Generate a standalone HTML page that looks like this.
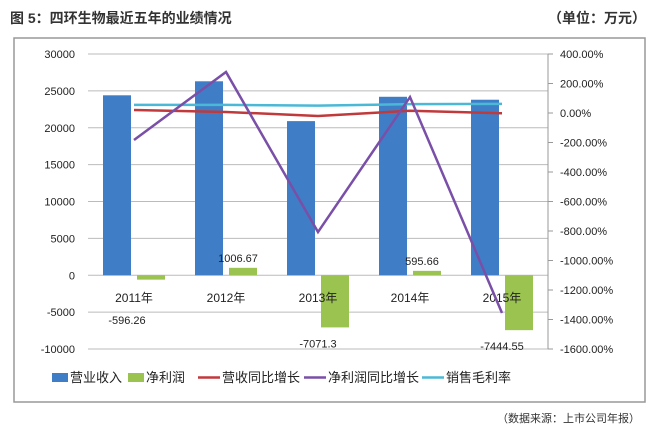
<!DOCTYPE html>
<html><head><meta charset="utf-8"><style>
body{margin:0;background:#fff;font-family:"Liberation Sans","Noto Sans CJK SC",sans-serif}
svg text{font-family:"Liberation Sans","Noto Sans CJK SC",sans-serif}
</style></head><body>
<svg id="c" width="657" height="434" xmlns="http://www.w3.org/2000/svg">
<text x="10" y="23" font-size="14" font-weight="bold" fill="#333">图 5：四环生物最近五年的业绩情况</text>
<text x="646" y="23" font-size="14" font-weight="bold" fill="#333" text-anchor="end">（单位：万元）</text>
<rect x="14" y="38" width="631" height="364" fill="none" stroke="#999" stroke-width="1.5"/>
<text x="640" y="422" font-size="11" fill="#333" text-anchor="end">（数据来源：上市公司年报）</text>
<g id="g"></g>
</svg>
<script>
const categories=["2011年","2012年","2013年","2014年","2015年"];
const revenue=[24400,26300,20900,24200,23800];
const profit=[-596.26,1006.67,-7071.3,595.66,-7444.55];
const profitLabels=["-596.26","1006.67","-7071.3","595.66","-7444.55"];
const revGrowth=[20,7,-20,15,-2];
const profitGrowth=[-183,278,-807,108,-1356];
const grossMargin=[55,55,50,60,62];
const leftTicks=[30000,25000,20000,15000,10000,5000,0,-5000,-10000];
const rightTicks=[400,200,0,-200,-400,-600,-800,-1000,-1200,-1400,-1600];
const X0=88,X1=548,Y0=54,Y1=349;
const yL=v=>Y0+(30000-v)/40000*(Y1-Y0);
const yR=v=>Y0+(400-v)/2000*(Y1-Y0);
const step=(X1-X0)/categories.length;
const xc=i=>X0+step*(i+0.5);
const g=document.getElementById('g');const NS="http://www.w3.org/2000/svg";
function mk(t,a,p){const e=document.createElementNS(NS,t);for(const k in a)e.setAttribute(k,a[k]);(p||g).appendChild(e);return e;}
leftTicks.forEach(v=>{const l=mk('line',{x1:X0,x2:X1,y1:yL(v),y2:yL(v),stroke:'#bbb'});


const t=mk('text',{x:75,y:yL(v)+4,'font-size':11,'text-anchor':'end',fill:'#222'});t.textContent=v;

});
mk('line',{x1:X1,x2:X1,y1:Y0,y2:Y1,stroke:'#999'});
rightTicks.forEach(v=>{mk('line',{x1:X1,x2:X1+5,y1:yR(v),y2:yR(v),stroke:'#999'});
const t=mk('text',{x:560,y:yR(v)+4,'font-size':11,fill:'#222'});t.textContent=v.toFixed(2)+'%';

});
categories.forEach((c,i)=>{
const b=mk('rect',{x:xc(i)-31,y:yL(revenue[i]),width:28,height:yL(0)-yL(revenue[i]),fill:'#3f7ec6'});


const p=profit[i],y1=Math.min(yL(p),yL(0)),h=Math.abs(yL(p)-yL(0));
const b2=mk('rect',{x:xc(i)+3,y:y1,width:28,height:h,fill:'#9bc34f'});


const t=mk('text',{x:xc(i),y:302,'font-size':12,'text-anchor':'middle',fill:'#222'});t.textContent=c;


let lx=p<0?xc(i):xc(i)+12,ly=p<0?yL(p)+20:yL(p)-6;
if(i==0){lx=xc(i)-7;ly=324;}
const t2=mk('text',{x:lx,y:ly,'font-size':11,'text-anchor':'middle',fill:'#222'});
t2.textContent=profitLabels[i];


});
function line(arr,col,name){const pts=arr.map((v,i)=>xc(i)+','+yR(v)).join(' ');
const l=mk('polyline',{points:pts,fill:'none',stroke:col,'stroke-width':2.5});

}
line(grossMargin,'#4bb8d6','gross-margin-line');
line(revGrowth,'#c0393b','revenue-growth-line');
line(profitGrowth,'#7a4fa8','profit-growth-line');
const leg=[["营业收入",'#3f7ec6','rect'],["净利润",'#9bc34f','rect'],["营收同比增长",'#c0393b','line'],["净利润同比增长",'#7a4fa8','line'],["销售毛利率",'#4bb8d6','line']];
const lxs=[52,128,198,304,422];
leg.forEach((e,i)=>{const x=lxs[i];
if(e[2]=='rect')mk('rect',{x:x,y:373,width:16,height:9,fill:e[1]});else mk('line',{x1:x,x2:x+22,y1:377.5,y2:377.5,stroke:e[1],'stroke-width':2.5});
const t=mk('text',{x:x+(e[2]=='rect'?18:24),y:382,'font-size':13,fill:'#222'});t.textContent=e[0];

});
</script>
</body></html>
